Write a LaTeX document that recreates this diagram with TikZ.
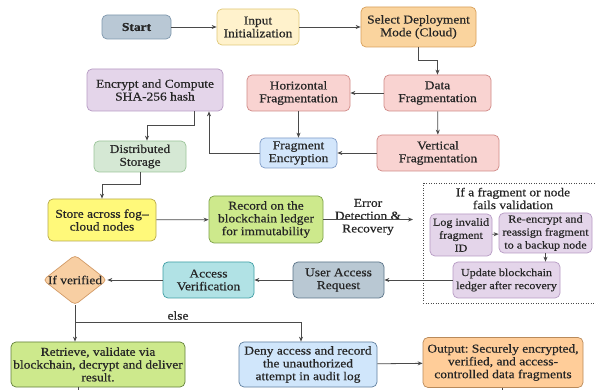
\documentclass[tikz,border=0pt]{standalone}
\usepackage{fontspec}
\setmainfont{Liberation Serif}[FakeStretch=1.12,FakeBold=0.5]
\frenchspacing
\usetikzlibrary{arrows.meta,shapes.geometric}
\definecolor{startF}{HTML}{B9C8D5}\definecolor{startD}{HTML}{7F98AE}
\definecolor{inF}{HTML}{FFF2CC}\definecolor{inD}{HTML}{E0C878}
\definecolor{selF}{HTML}{FAD49E}\definecolor{selD}{HTML}{D9A05B}
\definecolor{purF}{HTML}{E4D5EA}\definecolor{purD}{HTML}{B79BC4}
\definecolor{pinkF}{HTML}{F9D3D1}\definecolor{pinkD}{HTML}{D08A87}
\definecolor{feF}{HTML}{D3E6FB}\definecolor{feD}{HTML}{7F9CC8}
\definecolor{dsF}{HTML}{D5E8D4}\definecolor{dsD}{HTML}{9CC59A}
\definecolor{stF}{HTML}{FFF97A}\definecolor{stD}{HTML}{B8A94A}
\definecolor{grF}{HTML}{CDE98C}\definecolor{grD}{HTML}{7BA048}
\definecolor{uaF}{HTML}{B9C8D3}\definecolor{uaD}{HTML}{5A7388}
\definecolor{avF}{HTML}{B1E2E5}\definecolor{avD}{HTML}{3E9EA4}
\definecolor{diF}{HTML}{F8CFA3}\definecolor{diD}{HTML}{D29A66}
\definecolor{dnF}{HTML}{D0E6FB}\definecolor{dnD}{HTML}{5F7F9F}
\definecolor{ouF}{HTML}{FFCD99}\definecolor{ouD}{HTML}{B98A5A}
\definecolor{lineC}{HTML}{4A4A4A}
\newcommand{\mainfs}{\fontsize{12}{12.8}\selectfont}
\newcommand{\smallfs}{\fontsize{10.8}{13}\selectfont}
\begin{document}
\begin{tikzpicture}[x=1pt,y=-1pt,
  box/.style={draw, rounded corners=5pt, line width=0.7pt, align=center, inner sep=0pt, font=\mainfs, text=black!85},
  sbox/.style={box, font=\smallfs, fill=purF, draw=purD},
  arr/.style={draw=lineC, line width=0.8pt, -{Stealth[length=5pt,width=4pt]}},
  ln/.style={draw=lineC, line width=0.8pt},
  lbl/.style={font=\mainfs, align=center, text=black!85, inner sep=0pt}]
\useasboundingbox (0,0) rectangle (595,390);
\fill[white] (0,0) rectangle (595,390);

\node[box, fill=startF, draw=startD, minimum width=69, minimum height=24, font=\mainfs\bfseries] (start) at (136.5,27) {Start};
\node[box, fill=inF, draw=inD, minimum width=82, minimum height=36] (input) at (258,27) {Input\\Initialization};
\node[box, fill=selF, draw=selD, minimum width=115, minimum height=40] (select) at (418.5,27) {Select Deployment\\Mode (Cloud)};
\node[box, fill=purF, draw=purD, minimum width=136, minimum height=42] (encrypt) at (155,90) {Encrypt and Compute\\SHA-256 hash};
\node[box, fill=pinkF, draw=pinkD, minimum width=103, minimum height=36] (horiz) at (298.5,93) {Horizontal\\Fragmentation};
\node[box, fill=pinkF, draw=pinkD, minimum width=107, minimum height=36] (data) at (437.5,93) {Data\\Fragmentation};
\node[box, fill=feF, draw=feD, minimum width=77, minimum height=30] (fenc) at (298.5,153) {Fragment\\Encryption};
\node[box, fill=pinkF, draw=pinkD, minimum width=122, minimum height=36] (vert) at (438,153) {Vertical\\Fragmentation};
\node[box, fill=dsF, draw=dsD, minimum width=92, minimum height=31] (ds) at (140,156.5) {Distributed\\Storage};
\node[box, fill=stF, draw=stD, minimum width=108, minimum height=42] (store) at (102,220) {Store across fog--\\cloud nodes};
\node[box, fill=grF, draw=grD, minimum width=114, minimum height=47] (record) at (266,219.5) {Record on the\\blockchain ledger\\for immutability};
\coordinate (errend) at (413,219.5);
\node[lbl] (errlbl) at (368,217) {Error\\Detection \&\\Recovery};

\draw[dash pattern=on 0.9pt off 1.6pt, line width=0.8pt, draw=lineC] (423,183) rectangle (600,303);
\node[lbl] (ftitle) at (513,198.5) {If a fragment or node\\fails validation};
\node[sbox, minimum width=62, minimum height=42] (log) at (461,235) {Log invalid\\fragment\\ID};
\node[sbox, minimum width=93, minimum height=40] (reenc) at (545.5,233) {Re-encrypt and\\reassign fragment\\to a backup node};
\node[sbox, minimum width=107, minimum height=36] (update) at (506.5,280) {Update blockchain\\ledger after recovery};

\node[box, fill=uaF, draw=uaD, minimum width=91, minimum height=36] (uar) at (338.5,280) {User Access\\Request};
\node[box, fill=avF, draw=avD, minimum width=91, minimum height=36] (av) at (208.5,280) {Access\\Verification};
\node[diamond, draw=diD, fill=diF, line width=0.7pt, rounded corners=4pt, minimum width=64, minimum height=50, inner sep=0pt, font=\mainfs, text=black!85] (diam) at (75,280) {};
\node[lbl] (diamtxt) at (75,280) {If verified};
\node[box, fill=grF, draw=grD!80!black, minimum width=174, minimum height=45] (retrieve) at (98,364.5) {Retrieve, validate via\\blockchain, decrypt and deliver\\result.};
\node[box, fill=dnF, draw=dnD, minimum width=138, minimum height=45] (deny) at (308,364.5) {Deny access and record\\the unauthorized\\attempt in audit log};
\node[box, fill=ouF, draw=ouD, minimum width=160, minimum height=50] (output) at (503,362.5) {Output: Securely encrypted,\\verified, and access-\\controlled data fragments};

% connectors
\draw[arr] (start) -- (input);
\draw[arr] (input) -- (select);
\draw[arr] (select.south) -- ++(0,13) -| (data.north);
\draw[arr] (data) -- (horiz);
\draw[arr] (horiz) -- (fenc);
\draw[arr] (data) -- (vert);
\draw[arr] (vert) -- (fenc);
\draw[arr] (fenc.west) -| ([xshift=54]encrypt.south);
\draw[arr] ([xshift=39]encrypt.south) -- ++(0,14) -| ([xshift=7]ds.north);
\draw[arr] (ds.south) -- ++(0,12) -| (store.north);
\draw[arr] (store) -- (record);
\draw[arr] (record.east) -- (errend);
\draw[arr] (log) -- (reenc);
\draw[arr] (reenc.south) -- (reenc.south |- update.north);
\draw[arr] (update) -- (uar);
\draw[arr] (uar) -- (av);
\draw[arr] (av) -- (diam);
\draw[arr] (diam.south) -- (diam.south |- retrieve.north);
\path (diam.south) ++(0,17) coordinate (br);
\draw[arr] (br) -| ([xshift=-7]deny.north);
\node[lbl] (elselbl) at (178,315.5) {else};
\draw[arr] (deny) -- (output);
\coordinate (rstub) at (78,392);
\coordinate (ostub) at (502,392);
\draw[ln] ([xshift=-20]retrieve.south) -- (rstub);
\draw[ln] ([xshift=-1]output.south) -- (ostub);
\end{tikzpicture}
\end{document}
